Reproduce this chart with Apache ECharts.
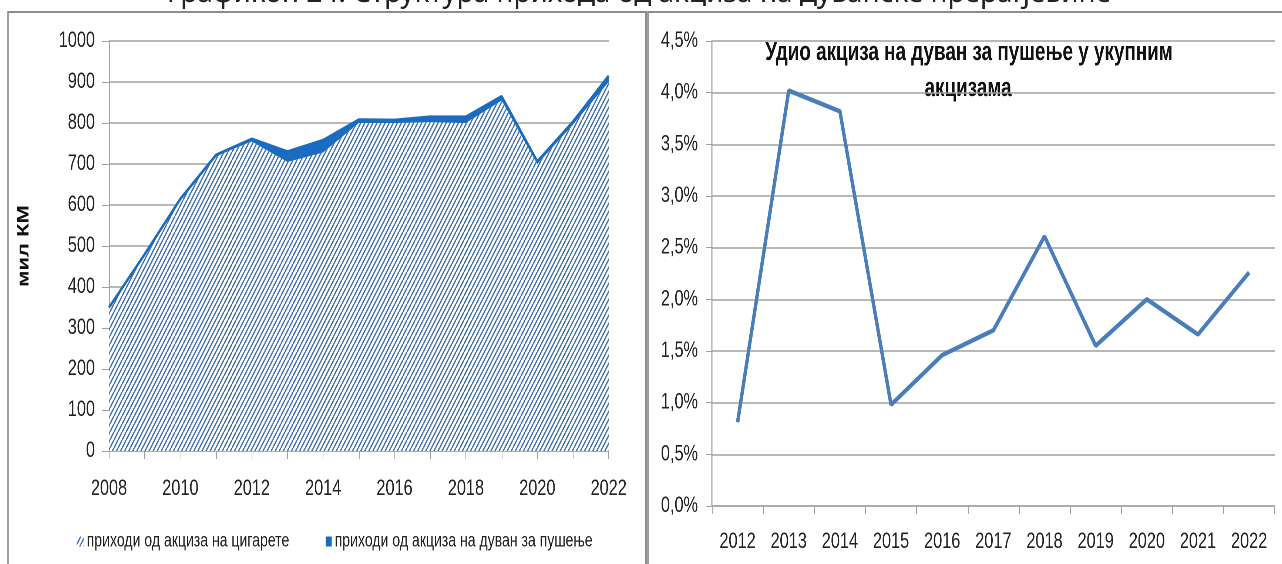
<!DOCTYPE html>
<html lang="sr">
<head>
  <meta charset="UTF-8">
  <title>Графикон 24</title>
  <script src="https://cdn.jsdelivr.net/npm/echarts@6/dist/echarts.min.js"></script>
  <style>
    html, body { margin: 0; padding: 0; background: #fff; overflow: hidden; }
    #wrap { width: 1282px; height: 564px; overflow: hidden; }
    /* слика у оригиналу је сабијена по ширини, па и графикон сабијамо */
    #main { height: 564px; transform-origin: 0 0; }
  </style>
</head>
<body>
  <div id="wrap"><div id="main"></div></div>
</body>
<script type="text/javascript">
  // податци
  var yearsLeft = ['2008', '2009', '2010', '2011', '2012', '2013', '2014', '2015',
    '2016', '2017', '2018', '2019', '2020', '2021', '2022'];
  var cigarettes = [350, 480, 615, 720, 755, 705, 728, 800, 800, 802, 800, 855, 700, 796, 900];
  var tobacco = [0, 0, 0, 2, 6, 25, 30, 8, 7, 13, 15, 10, 6, 7, 15];

  var yearsRight = ['2012', '2013', '2014', '2015', '2016', '2017', '2018', '2019', '2020', '2021', '2022'];
  var share = [0.81, 4.02, 3.82, 0.98, 1.46, 1.70, 2.61, 1.55, 2.00, 1.66, 2.26];

  var S = 0.74;              // хоризонтално сабијање
  var W = 1282 / S;          // ширина графикона пре сабијања
  function X(v) { return v / S; }

  var font = "'Liberation Sans', Arial, sans-serif";

  var dom = document.getElementById('main');
  dom.style.width = W + 'px';
  dom.style.transform = 'scaleX(' + S + ')';

  // шрафура за површину цигарета (цртана у 2x па умањена)
  function makeHatch() {
    var c = document.createElement('canvas');
    c.width = 11; c.height = 16;
    var ctx = c.getContext('2d');
    ctx.fillStyle = '#fff';
    ctx.fillRect(0, 0, 11, 16);
    ctx.strokeStyle = '#4470ad';
    ctx.lineWidth = 3.4;
    for (var dx = -11; dx <= 11; dx += 11) {
      ctx.beginPath();
      ctx.moveTo(dx, 16);
      ctx.lineTo(dx + 11, 0);
      ctx.stroke();
    }
    return c;
  }
  var hatch = { image: makeHatch(), repeat: 'repeat', scaleX: 0.5, scaleY: 0.5 };

  var app = echarts.init(dom, null, { devicePixelRatio: 2 });

  var option = {
    animation: false,
    graphic: [
      {
        type: 'text', x: W / 2 - X(2), y: -20, scaleX: 1 / S,
        style: { text: 'Графикон 24. Структура прихода од акциза на дуванске прерађевине',
          textAlign: 'center', font: '28px "Noto Sans", sans-serif', fill: '#222' }
      },
      { type: 'rect', shape: { x: X(8), y: 12, width: X(638), height: 560 },
        style: { fill: 'none', stroke: '#8c8c8c', lineWidth: 2 } },
      { type: 'rect', shape: { x: X(648), y: 12, width: X(640), height: 560 },
        style: { fill: 'none', stroke: '#8c8c8c', lineWidth: 2 } },
      {
        type: 'text', x: X(969), y: 53,
        style: { text: 'Удио акциза на дуван за пушење у укупним', textAlign: 'center', textVerticalAlign: 'middle',
          font: 'bold 25.5px ' + font, fill: '#111' }
      },
      {
        type: 'text', x: X(968), y: 89,
        style: { text: 'акцизама', textAlign: 'center', textVerticalAlign: 'middle',
          font: 'bold 25.5px ' + font, fill: '#111' }
      }
    ],
    legend: [
      {
        left: X(73), top: 527, itemWidth: X(7), itemHeight: 10, itemGap: 0,
        textStyle: { fontFamily: font, fontSize: 19, color: '#222', padding: [0, 0, 0, -1] },
        data: [{ name: 'приходи од акциза на цигарете', icon: 'rect', itemStyle: { color: hatch, borderWidth: 0 } }]
      },
      {
        left: X(322), top: 527, itemWidth: X(6), itemHeight: 10, itemGap: 0,
        textStyle: { fontFamily: font, fontSize: 19, color: '#222', padding: [0, 0, 0, -1] },
        data: [{ name: 'приходи од акциза на дуван за пушење', icon: 'rect', itemStyle: { color: '#1a6cc0' } }]
      }
    ],
    grid: [
      { left: X(109), right: W - X(609), top: 41, bottom: 113 },
      { left: X(712), right: W - X(1275), top: 41, bottom: 58 }
    ],
    xAxis: [
      {
        type: 'category', gridIndex: 0, data: yearsLeft, boundaryGap: false,
        axisLine: { lineStyle: { color: '#a0a0a0', width: 1.5 } },
        axisTick: { show: true, interval: 0, length: 8, lineStyle: { color: '#a0a0a0' } },
        axisLabel: { interval: 1, margin: 27, fontFamily: font, fontSize: 22, color: '#222' }
      },
      {
        type: 'category', gridIndex: 1, data: yearsRight, boundaryGap: true,
        axisLine: { lineStyle: { color: '#a0a0a0', width: 1.5 } },
        axisTick: { show: true, interval: 0, length: 8, lineStyle: { color: '#a0a0a0' } },
        axisLabel: { interval: 0, margin: 25, fontFamily: font, fontSize: 22, color: '#222' }
      }
    ],
    yAxis: [
      {
        type: 'value', gridIndex: 0, min: 0, max: 1000, interval: 100,
        name: 'мил КМ', nameLocation: 'middle', nameGap: X(77), nameRotate: 90,
        nameTextStyle: { fontFamily: font, fontWeight: 'bold', fontSize: 22, color: '#111' },
        axisLine: { show: true, lineStyle: { color: '#a0a0a0', width: 1.5 } },
        axisTick: { show: true, length: X(7), lineStyle: { color: '#a0a0a0' } },
        axisLabel: { margin: X(14), fontFamily: font, fontSize: 22, color: '#222',
          formatter: function (v) { return String(v); } },
        splitLine: { lineStyle: { color: '#a0a0a0', width: 1.5 } }
      },
      {
        type: 'value', gridIndex: 1, min: 0, max: 4.5, interval: 0.5,
        axisLine: { show: true, lineStyle: { color: '#a0a0a0', width: 1.5 } },
        axisTick: { show: true, length: X(6), lineStyle: { color: '#a0a0a0' } },
        axisLabel: {
          margin: X(14), fontFamily: font, fontSize: 22, color: '#222',
          formatter: function (v) { return v.toFixed(1).replace('.', ',') + '%'; }
        },
        splitLine: { lineStyle: { color: '#a0a0a0', width: 1.5 } }
      }
    ],
    series: [
      {
        name: 'приходи од акциза на цигарете', type: 'line', stack: 'total',
        xAxisIndex: 0, yAxisIndex: 0, data: cigarettes,
        symbol: 'none', lineStyle: { width: 0 },
        itemStyle: { color: hatch },
        areaStyle: { color: hatch, opacity: 1 }
      },
      {
        name: 'приходи од акциза на дуван за пушење', type: 'line', stack: 'total',
        xAxisIndex: 0, yAxisIndex: 0, data: tobacco,
        symbol: 'none', lineStyle: { width: 3, color: '#1a6cc0' },
        itemStyle: { color: '#1a6cc0' },
        areaStyle: { color: '#1a6cc0', opacity: 1 }
      },
      {
        name: 'удио', type: 'line', xAxisIndex: 1, yAxisIndex: 1, data: share,
        symbol: 'none', lineStyle: { width: 4.6, color: '#4a7ebb' },
        itemStyle: { color: '#4a7ebb' }
      }
    ]
  };

  app.setOption(option);
</script>
</html>
